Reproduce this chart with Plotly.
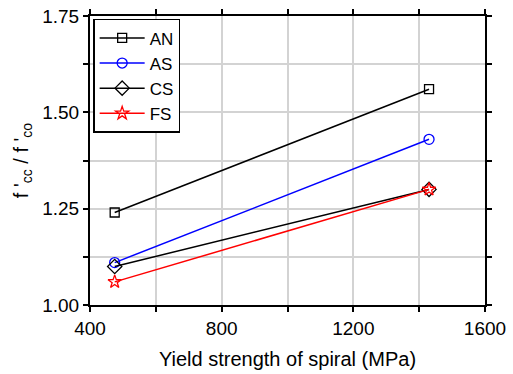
import plotly.graph_objects as go

x_vals = [475, 1430]
series = ["AN", "AS", "CS", "FS"]
an = [1.24, 1.56]
as_ = [1.11, 1.43]
cs = [1.10, 1.30]
fs = [1.06, 1.30]
values = [an, as_, cs, fs]
colors = ["black", "blue", "black", "red"]
symbols = ["square-open", "circle-open", "diamond-open", "star-open"]
sizes = [9, 10, 11, 10]

x_ticks = [400, 600, 800, 1000, 1200, 1400, 1600]
x_labels = ["400", "", "800", "", "1200", "", "1600"]
y_ticks = [1.0, 1.125, 1.25, 1.375, 1.5, 1.625, 1.75]
y_labels = ["1.00", "", "1.25", "", "1.50", "", "1.75"]

FONT = "Liberation Sans"

fig = go.Figure()
for name, v, c, s, sz in zip(series, values, colors, symbols, sizes):
    fig.add_trace(go.Scatter(x=x_vals, y=v, name=name, mode="lines+markers",
                             line=dict(color=c, width=1.5),
                             marker=dict(symbol=s, size=sz, color=c, line=dict(width=1.3, color=c))))

axis_common = dict(showline=True, linecolor="black", linewidth=2, mirror="allticks",
                   ticks="outside", ticklen=5, tickwidth=1.5, tickcolor="black",
                   showgrid=True, gridcolor="#d3d3d3", gridwidth=1.5, zeroline=False,
                   automargin=False, ticklabeloverflow="allow",
                   tickfont=dict(family=FONT, size=19, color="black"))

fig.update_layout(
    width=513, height=374,
    margin=dict(l=90, r=28, t=16, b=69, autoexpand=False),
    plot_bgcolor="white", paper_bgcolor="white",
    font=dict(family=FONT, size=19, color="black"),
    xaxis=dict(range=[400, 1600], tickvals=x_ticks, ticktext=x_labels,
               title=dict(text="Yield strength of spiral (MPa)", font=dict(family=FONT, size=20), standoff=14),
               **axis_common),
    yaxis=dict(range=[1.0, 1.75], tickvals=y_ticks, ticktext=y_labels,
               title=dict(text="f '<sub>cc</sub> / f '<sub>co</sub>", font=dict(family=FONT, size=20), standoff=8),
               **axis_common),
    legend=dict(x=0.008, y=0.99, xanchor="left", yanchor="top",
                bgcolor="white", bordercolor="black", borderwidth=1.5,
                font=dict(family=FONT, size=17), itemwidth=45, tracegroupgap=0),
)

fig.write_html("out.html", post_script="document.body.style.margin='0';",
               config={"displayModeBar": False})
